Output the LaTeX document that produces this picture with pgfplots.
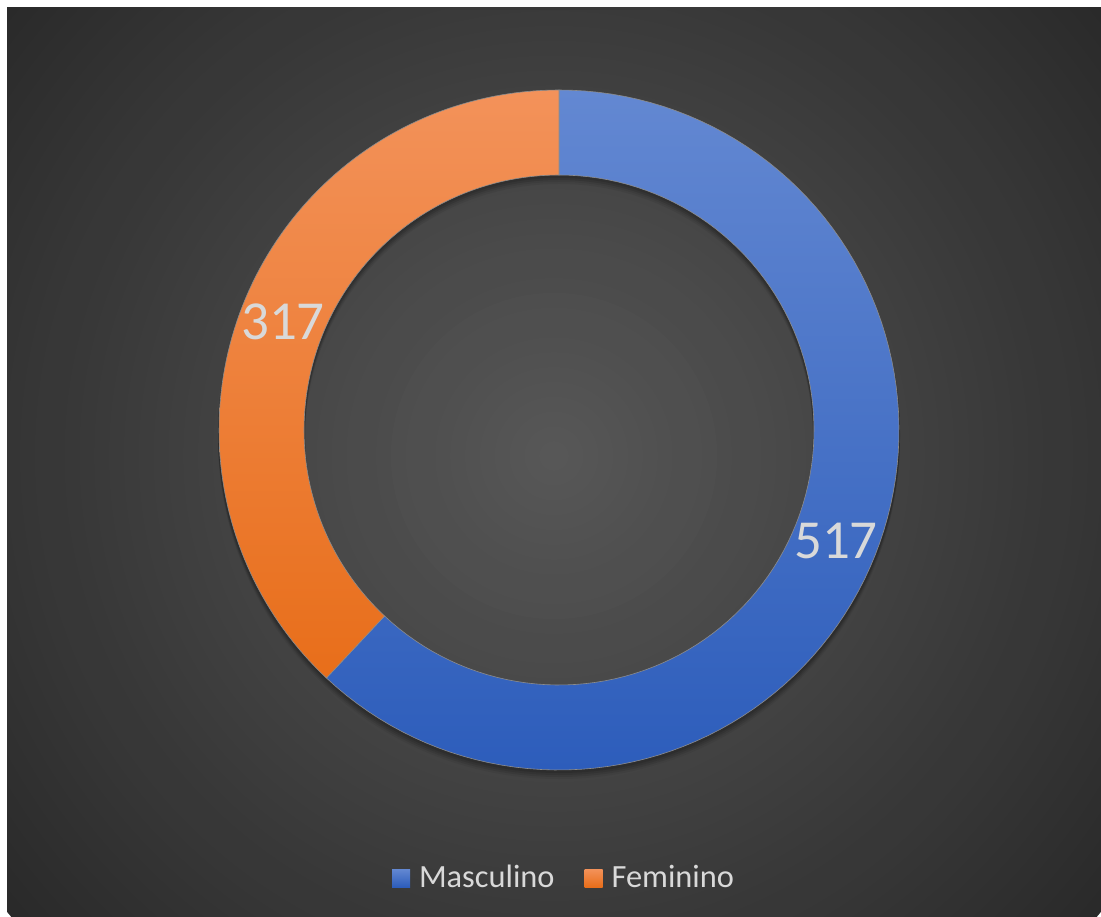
\documentclass[border=0pt]{standalone}
\usepackage{pgfplots}
\pgfplotsset{compat=1.18}
\usepackage{fontspec}
\setmainfont{Carlito}
\definecolor{bgc}{HTML}{585858}
\definecolor{bgo}{HTML}{2A2A2A}
\definecolor{blueT}{HTML}{6388D2}
\definecolor{blueB}{HTML}{2D5DBB}
\definecolor{oraT}{HTML}{F3925A}
\definecolor{oraB}{HTML}{E86E1A}
\definecolor{txt}{HTML}{D9D9D9}
% data
\def\vM{517}
\def\vF{317}
\pgfmathsetmacro{\fM}{\vM/(\vM+\vF)}
\pgfmathsetmacro{\fF}{\vF/(\vM+\vF)}
\pgfmathsetmacro{\aM}{90-360*\fM}
\pgfmathsetmacro{\aF}{\aM-360*\fF}
\begin{document}
\begin{tikzpicture}
\fill[white] (0,0) rectangle (550.5pt,458pt);
\begin{scope}
\clip (3.5pt,0pt) rectangle (550.5pt,454pt);
\foreach \i in {0,...,47}{
  \pgfmathsetmacro\r{356*(1-\i/48)}
  \pgfmathsetmacro\p{100*\i/48}
  \fill[bgc!\p!bgo] (277pt,230pt) circle (\r pt);
}
\end{scope}
\begin{axis}[
  at={(0,0)}, anchor=south west,
  scale only axis, width=550.5pt, height=458pt,
  xmin=-559, xmax=542, ymin=-486, ymax=430,
  hide axis, clip=false,
  legend style={at={(axis cs:6,-448)}, anchor=center, draw=none, fill=none,
    text=txt, font=\fontsize{16.2}{19}\selectfont, legend columns=2,
    /tikz/every odd column/.append style={column sep=2.5pt},
    /tikz/every even column/.append style={column sep=13pt}},
  legend image code/.code={\path[#1, draw=none] (0pt,-4.5pt) rectangle (9pt,4.5pt);},
  variable=\s,
]
% soft shadow of the ring
\fill[black, opacity=0.10, even odd rule] (axis cs:0,-2) circle[radius=170.5pt] (axis cs:0,-2) circle[radius=127pt];
\fill[black, opacity=0.10, even odd rule] (axis cs:0,-4) circle[radius=170.5pt] (axis cs:0,-4) circle[radius=127pt];
\fill[black, opacity=0.08, even odd rule] (axis cs:0,-6) circle[radius=170.5pt] (axis cs:0,-6) circle[radius=127pt];
\fill[black, opacity=0.06, even odd rule] (axis cs:0,-8) circle[radius=170.5pt] (axis cs:0,-8) circle[radius=127pt];
% Masculino: outer arc (s=0..100) from \aM to 90, inner arc back (s=101..201)
\addplot[top color=blueT, bottom color=blueB, draw=black!45, line width=0.3pt,
  samples at={0,1,...,201}]
  ({ifthenelse(\s<100.5, 340*cos(\aM+(90-\aM)*\s/100), 255*cos(\aM+(90-\aM)*(201-\s)/100))},
   {ifthenelse(\s<100.5, 340*sin(\aM+(90-\aM)*\s/100), 255*sin(\aM+(90-\aM)*(201-\s)/100))}) -- cycle;
\addlegendentry{Masculino}
% Feminino: outer arc from \aF to \aM, inner arc back
\addplot[top color=oraT, bottom color=oraB, draw=black!45, line width=0.3pt,
  samples at={0,1,...,201}]
  ({ifthenelse(\s<100.5, 340*cos(\aF+(\aM-\aF)*\s/100), 255*cos(\aF+(\aM-\aF)*(201-\s)/100))},
   {ifthenelse(\s<100.5, 340*sin(\aF+(\aM-\aF)*\s/100), 255*sin(\aF+(\aM-\aF)*(201-\s)/100))}) -- cycle;
\addlegendentry{Feminino}
% data labels
\node[text=txt, font=\fontsize{27.5}{32}\selectfont] at (axis cs:277,-111) {517};
\node[text=txt, font=\fontsize{27.5}{32}\selectfont] at (axis cs:-276,108) {317};
\end{axis}
\end{tikzpicture}
\end{document}
